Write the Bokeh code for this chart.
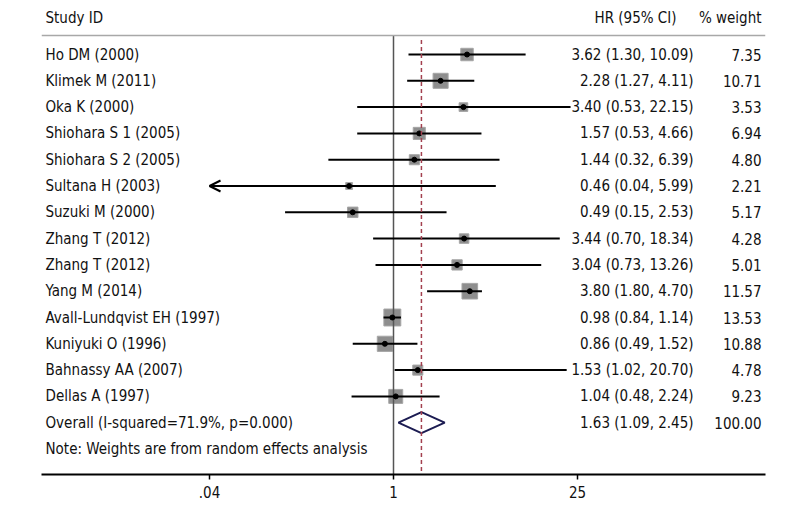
import math
from bokeh.plotting import figure
from bokeh.models import Range1d, FixedTicker, Span, Arrow, OpenHead, ColumnDataSource
from bokeh.core.properties import value
from bokeh.embed import file_html
from bokeh.resources import INLINE

studies = ["Ho DM (2000)", "Klimek M (2011)", "Oka K (2000)", "Shiohara S 1 (2005)",
           "Shiohara S 2 (2005)", "Sultana H (2003)", "Suzuki M (2000)", "Zhang T (2012)",
           "Zhang T (2012)", "Yang M (2014)", "Avall-Lundqvist EH (1997)", "Kuniyuki O (1996)",
           "Bahnassy AA (2007)", "Dellas A (1997)"]
hr = [3.62, 2.28, 3.40, 1.57, 1.44, 0.46, 0.49, 3.44, 3.04, 3.80, 0.98, 0.86, 1.53, 1.04]
ci_low = [1.30, 1.27, 0.53, 0.53, 0.32, 0.04, 0.15, 0.70, 0.73, 1.80, 0.84, 0.49, 1.02, 0.48]
ci_high = [10.09, 4.11, 22.15, 4.66, 6.39, 5.99, 2.53, 18.34, 13.26, 4.70, 1.14, 1.52, 20.70, 2.24]
weights = [7.35, 10.71, 3.53, 6.94, 4.80, 2.21, 5.17, 4.28, 5.01, 11.57, 13.53, 10.88, 4.78, 9.23]
overall_label = "Overall (I-squared=71.9%, p=0.000)"
overall_hr = 1.63
overall_low = 1.09
overall_high = 2.45
overall_weight = 100.00
note_text = "Note: Weights are from random effects analysis"
tick_values = [0.04, 1, 25]
tick_labels = [".04", "1", "25"]
axis_min = 0.04

FONT = "'DejaVu Sans Condensed', 'Liberation Sans Narrow', sans-serif"
FS = "15px"

W, H = 800, 512
ML, MR, MT, MB = 41, 35, 8, 38
FW = W - ML - MR  # frame width

# log scale mapping: 1 sits at frame px 352, one decade = 131.6 px
PX_ONE = 352.0
PX_DEC = 131.6
def px_to_x(px):
    return 10 ** ((px - PX_ONE) / PX_DEC)

x_lo = px_to_x(0)
x_hi = px_to_x(FW)

n = len(studies)
ys = [-i for i in range(n)]
y_overall = -n
y_note = -(n + 1)
y_header = 1.37
y_hline = 0.72
y_bottom = -15.97
y_top = 1.75

p = figure(width=W, height=H, x_axis_type="log", output_backend="svg",
           toolbar_location=None, x_range=Range1d(x_lo, x_hi),
           y_range=Range1d(y_bottom, y_top),
           min_border_left=ML, min_border_right=MR, min_border_top=MT,
           min_border_bottom=MB)
p.outline_line_color = None
p.grid.visible = False
p.yaxis.visible = False
p.background_fill_color = "white"

ax = p.xaxis[0]
ax.ticker = FixedTicker(ticks=tick_values, minor_ticks=[])
ax.major_label_overrides = {v: l for v, l in zip(tick_values, tick_labels)}
ax.axis_line_color = "black"
ax.axis_line_width = 2
ax.major_tick_line_color = "black"
ax.major_tick_line_width = 1.5
ax.major_tick_out = 5
ax.major_tick_in = 0
ax.minor_tick_line_color = None
ax.major_label_text_font = FONT
ax.major_label_text_font_size = FS
ax.major_label_text_color = "#111111"
ax.major_label_standoff = 6

# header rule
p.add_layout(Span(location=y_hline, dimension="width", line_color="#a8a8a8", line_width=1.5))

# squares (size ~ sqrt weight)
sizes = [4.6 * math.sqrt(w) for w in weights]
src = ColumnDataSource(dict(x=hr, y=ys, size=sizes))
p.scatter(x="x", y="y", size="size", marker="square", source=src,
          fill_color="#8e8e8e", line_color="#a6a6a6", line_width=1)

# null line at 1
p.segment(x0=[1], y0=[y_hline], x1=[1], y1=[y_bottom], line_color="#555555", line_width=1.5)

# CI lines
for l, h, y in zip(ci_low, ci_high, ys):
    if l <= axis_min:
        p.add_layout(Arrow(x_start=h, y_start=y, x_end=axis_min, y_end=y,
                           line_color="black", line_width=2,
                           end=OpenHead(size=11, line_color="black", line_width=2)))
    else:
        p.segment(x0=[l], y0=[y], x1=[h], y1=[y], line_color="black", line_width=2)

p.scatter(x="x", y="y", size=5, marker="circle", source=src,
          fill_color="black", line_color="black")

# overall diamond
dh = 0.4
p.patch(x=[overall_low, overall_hr, overall_high, overall_hr, overall_low],
        y=[y_overall, y_overall + dh, y_overall, y_overall - dh, y_overall],
        fill_color="white", line_color="#1c1c52", line_width=2)

# overall dashed line
p.segment(x0=[overall_hr], y0=[0.55], x1=[overall_hr], y1=[y_bottom], line_color="#a3404f",
          line_width=1.5, line_dash="4 3")

# text columns
x_left = px_to_x(4)
x_hr_col = px_to_x(652)
x_hr_head = px_to_x(635)
x_w_col = px_to_x(720)

def txt(x, y, t, align):
    p.text(x=x, y=y, text=t, text_font=value(FONT), text_font_size=FS,
           text_color="#111111", text_align=align, text_baseline="middle")

txt([x_left], [y_header], ["Study ID"], "left")
txt([x_hr_head], [y_header], ["HR (95% CI)"], "right")
txt([x_w_col], [y_header], ["% weight"], "right")

txt([x_left] * n, ys, studies, "left")
hr_text = [f"{h:.2f} ({l:.2f}, {u:.2f})" for h, l, u in zip(hr, ci_low, ci_high)]
txt([x_hr_col] * n, ys, hr_text, "right")
txt([x_w_col] * n, ys, [f"{w:.2f}" for w in weights], "right")

txt([x_left], [y_overall], [overall_label], "left")
txt([x_hr_col], [y_overall], [f"{overall_hr:.2f} ({overall_low:.2f}, {overall_high:.2f})"], "right")
txt([x_w_col], [y_overall], [f"{overall_weight:.2f}"], "right")
txt([x_left], [y_note], [note_text], "left")

open("out.html", "w").write(file_html(p, INLINE))
